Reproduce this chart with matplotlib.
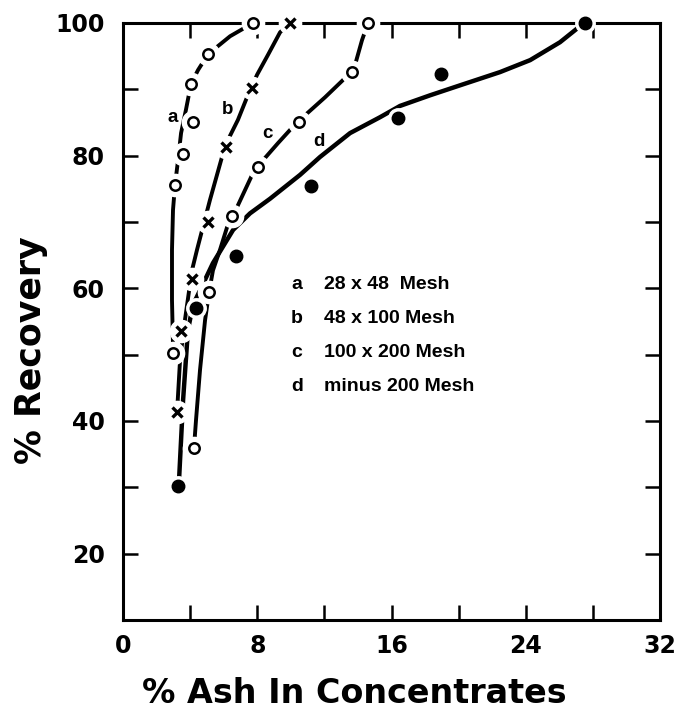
import numpy as np
import matplotlib.pyplot as plt
from matplotlib.ticker import MultipleLocator, FuncFormatter


# measured points (ash %, recovery %)
a_ash = [7.75, 5.07, 4.05, 4.17, 3.58, 3.10, 2.98]
a_rec = [100, 95.3, 90.8, 85.1, 80.2, 75.6, 50.2]
b_ash = [9.95, 7.69, 6.14, 5.07, 4.11, 3.46, 3.22]
b_rec = [100, 90.2, 81.3, 70.0, 61.4, 53.5, 41.3]
c_ash = [14.6, 13.65, 10.49, 8.05, 6.50, 5.13, 4.23]
c_rec = [100, 92.6, 85.1, 78.3, 70.9, 59.4, 35.9]
d_ash = [27.5, 18.95, 16.39, 11.2, 6.73, 4.35, 3.28]
d_rec = [100, 92.3, 85.7, 75.4, 64.9, 57.0, 30.2]

# hand drawn curves
a_line_x = [7.75, 6.38, 5.07, 4.47, 4.05, 3.75, 3.46, 3.28, 3.10, 2.98, 2.92, 2.92, 2.98]
a_line_y = [100, 98.0, 95.3, 92.9, 90.8, 86.9, 83.4, 79.3, 75.6, 71.8, 65.8, 58.2, 51.4]
b_line_x = [9.95, 9.36, 8.64, 7.99, 7.39, 6.85, 6.26, 5.90, 5.18, 4.41, 4.11, 3.69, 3.40, 3.22]
b_line_y = [100, 98.6, 95.2, 92.2, 88.8, 85.4, 82.4, 79.8, 73.3, 65.8, 62.7, 55.2, 49.2, 41.3]
c_line_x = [14.6, 14.24, 13.83, 13.11, 12.04, 10.85, 10.07, 9.24, 8.34, 7.75, 7.27,
            6.79, 6.20, 5.78, 5.36, 5.13, 4.89, 4.59, 4.35, 4.23]
c_line_y = [100, 97.4, 93.7, 91.4, 88.8, 86.1, 84.2, 81.9, 79.3, 77.4, 74.8,
            72.2, 69.2, 65.8, 62.7, 59.4, 55.2, 47.7, 40.1, 35.9]
d_line_x = [3.34, 3.58, 3.87, 4.17, 4.59, 5.36, 6.56, 7.57, 8.76, 10.55, 11.74, 13.53,
            15.32, 16.51, 18.30, 20.08, 22.47, 24.26, 26.04, 27.47]
d_line_y = [31.1, 43.1, 53.7, 57.5, 59.7, 63.8, 68.8, 71.3, 73.5, 77.1, 79.8, 83.4,
            85.8, 87.5, 89.1, 90.6, 92.6, 94.4, 97.1, 100]

letters = ['a', 'b', 'c', 'd']
mesh = ['28 x 48  Mesh', '48 x 100 Mesh', '100 x 200 Mesh', 'minus 200 Mesh']
label_pos = [(2.98, 85.8), (6.2, 86.9), (8.6, 83.4), (11.7, 82.1)]


fig = plt.figure(figsize=(6.78, 7.14), dpi=100)
ax = fig.add_axes([0.1814, 0.1317, 0.7921, 0.8361])

lw = 2.8
ax.plot(a_line_x, a_line_y, color='black', lw=lw, zorder=2, solid_capstyle='butt')
ax.plot(b_line_x, b_line_y, color='black', lw=lw, zorder=2, solid_capstyle='butt')
ax.plot(c_line_x, c_line_y, color='black', lw=lw, zorder=2, solid_capstyle='butt')
ax.plot(d_line_x, d_line_y, color='black', lw=3.2, zorder=2, solid_capstyle='butt')

# white halo so lines and frame break around the markers
for xs, ys, s in [(a_ash, a_rec, 16), (b_ash, b_rec, 16), (c_ash, c_rec, 16), (d_ash, d_rec, 14)]:
    ax.plot(xs, ys, 'o', ms=s, mfc='white', mec='white', zorder=3, clip_on=False)

ax.plot(a_ash, a_rec, 'o', ms=7.5, mfc='white', mec='black', mew=1.8, zorder=4, clip_on=False)
ax.plot(b_ash, b_rec, 'x', ms=6.5, mec='black', mew=2.4, zorder=4, clip_on=False)
ax.plot(c_ash, c_rec, 'o', ms=7.5, mfc='white', mec='black', mew=1.8, zorder=4, clip_on=False)
ax.plot(d_ash, d_rec, 'o', ms=9, mfc='black', mec='black', zorder=4, clip_on=False)

for lt, (lx, ly) in zip(letters, label_pos):
    ax.text(lx, ly, lt, fontsize=13.5, fontweight='bold', family='Liberation Sans',
            ha='center', va='center')

for i in range(len(letters)):
    yy = 60.5 - 5.1 * i
    ax.text(10.37, yy, letters[i], fontsize=14, fontweight='bold',
            family='Liberation Sans', ha='center', va='center')
    ax.text(12.0, yy, mesh[i], fontsize=14, fontweight='bold',
            family='Liberation Sans', ha='left', va='center')

ax.set_xlim(0, 32)
ax.set_ylim(10, 100)
ax.xaxis.set_major_locator(MultipleLocator(4))
ax.yaxis.set_major_locator(MultipleLocator(10))
ax.xaxis.set_major_formatter(FuncFormatter(lambda v, p: '%d' % v if v % 8 == 0 else ''))
ax.yaxis.set_major_formatter(FuncFormatter(lambda v, p: '%d' % v if v % 20 == 0 else ''))
ax.tick_params(direction='in', length=11, width=1.8, top=True, right=True,
               labelsize=17)
ax.tick_params(axis='x', pad=10)
ax.tick_params(axis='y', pad=13)
for lab in ax.get_xticklabels() + ax.get_yticklabels():
    lab.set_fontweight('bold')
for sp in ax.spines.values():
    sp.set_linewidth(2.2)

ax.set_xlabel('% Ash In Concentrates', fontsize=24, fontweight='bold')
ax.set_ylabel('% Recovery', fontsize=25, fontweight='bold')
ax.xaxis.set_label_coords(0.43, -0.124)
ax.yaxis.set_label_coords(-0.172, 0.452)
ax.xaxis.label.set_va('center')
ax.yaxis.label.set_va('center')

fig.savefig('out.png', dpi=100)
